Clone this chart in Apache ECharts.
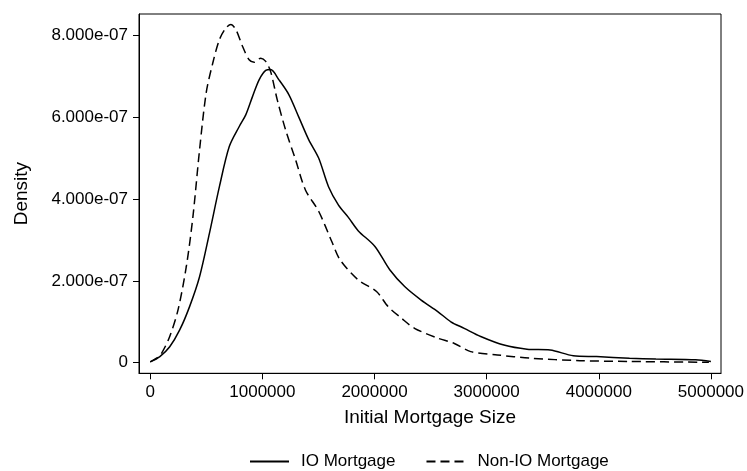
<!DOCTYPE html>
<html>
<head>
<meta charset="utf-8">
<script src="https://cdn.jsdelivr.net/npm/echarts@6/dist/echarts.min.js"></script>
<style>html,body{margin:0;padding:0;background:#fff}#c{width:747px;height:471px}</style>
</head>
<body>
<div id="c"></div>
<script>
// IO Mortgage kernel density
const ioX = [0, 86000, 174000, 263000, 351000, 440000, 528000, 617000, 705000, 794000, 853000, 912000, 971000, 1030000, 1074000, 1148000, 1236000, 1325000, 1413000, 1502000, 1590000, 1679000, 1767000, 1856000, 2004000, 2136000, 2269000, 2416000, 2564000, 2681000, 2800000, 2947000, 3154000, 3360000, 3566000, 3773000, 3980000, 4274000, 4510000, 4864000, 5000000];
const ioY = [0.02e-7, 0.15e-7, 0.39e-7, 0.80e-7, 1.37e-7, 2.10e-7, 3.16e-7, 4.30e-7, 5.28e-7, 5.77e-7, 6.06e-7, 6.50e-7, 6.91e-7, 7.14e-7, 7.16e-7, 6.91e-7, 6.55e-7, 6.00e-7, 5.45e-7, 5.00e-7, 4.30e-7, 3.85e-7, 3.55e-7, 3.22e-7, 2.84e-7, 2.27e-7, 1.86e-7, 1.53e-7, 1.25e-7, 1.00e-7, 0.84e-7, 0.64e-7, 0.43e-7, 0.33e-7, 0.31e-7, 0.17e-7, 0.15e-7, 0.11e-7, 0.09e-7, 0.07e-7, 0.03e-7];
// Non-IO Mortgage kernel density
const nonIoX = [0, 57000, 101000, 174000, 248000, 322000, 381000, 440000, 499000, 558000, 617000, 676000, 720000, 765000, 823000, 882000, 927000, 986000, 1030000, 1074000, 1133000, 1207000, 1296000, 1384000, 1502000, 1619000, 1694000, 1856000, 2018000, 2121000, 2239000, 2357000, 2564000, 2712000, 2858000, 3095000, 3389000, 3832000, 4274000, 4982000];
const nonIoY = [0.02e-7, 0.11e-7, 0.23e-7, 0.64e-7, 1.29e-7, 2.35e-7, 3.57e-7, 5.20e-7, 6.59e-7, 7.32e-7, 7.89e-7, 8.18e-7, 8.26e-7, 8.13e-7, 7.73e-7, 7.40e-7, 7.34e-7, 7.44e-7, 7.36e-7, 7.11e-7, 6.42e-7, 5.69e-7, 4.96e-7, 4.22e-7, 3.70e-7, 2.96e-7, 2.51e-7, 2.02e-7, 1.74e-7, 1.37e-7, 1.09e-7, 0.84e-7, 0.60e-7, 0.47e-7, 0.27e-7, 0.19e-7, 0.11e-7, 0.05e-7, 0.03e-7, 0.01e-7];
const xTicks = [0, 1000000, 2000000, 3000000, 4000000, 5000000];
const yTicks = [0, 2e-7, 4e-7, 6e-7, 8e-7];
const seriesNames = ['IO Mortgage', 'Non-IO Mortgage'];

const FONT = "'Liberation Sans', Arial, sans-serif";
function fmtY(v) {
  if (v === 0) return '0';
  return v.toExponential(3).replace(/e([+-])(\d)$/, 'e$10$2');
}
const zip = (xs, ys) => xs.map((x, i) => [x, ys[i]]);

const chart = echarts.init(document.getElementById('c'), null, {renderer: 'canvas'});
chart.setOption({
  animation: false,
  backgroundColor: '#fff',
  textStyle: {fontFamily: FONT, color: '#000'},
  grid: {left: 139, top: 14, width: 586.5, height: 359.3, show: true, borderColor: '#000', borderWidth: 1, containLabel: false},
  xAxis: {
    type: 'value', min: -100000, max: 5090000,
    name: 'Initial Mortgage Size', nameLocation: 'middle', nameGap: 35,
    nameTextStyle: {fontFamily: FONT, fontSize: 19, color: '#000'},
    axisLine: {show: true, onZero: false, lineStyle: {color: '#000', width: 1}},
    axisTick: {show: true, length: 6, customValues: xTicks, lineStyle: {color: '#000'}},
    axisLabel: {customValues: xTicks, fontFamily: FONT, fontSize: 17, color: '#000', margin: 11, formatter: v => String(v)},
    splitLine: {show: false}
  },
  yAxis: {
    type: 'value', min: -0.259e-7, max: 8.518e-7,
    name: 'Density', nameLocation: 'middle', nameGap: 108, nameRotate: 90,
    nameTextStyle: {fontFamily: FONT, fontSize: 19, color: '#000'},
    axisLine: {show: true, onZero: false, lineStyle: {color: '#000', width: 1}},
    axisTick: {show: true, length: 6, customValues: yTicks, lineStyle: {color: '#000'}},
    axisLabel: {customValues: yTicks, fontFamily: FONT, fontSize: 17, color: '#000', margin: 11, formatter: fmtY},
    splitLine: {show: false}
  },
  legend: {
    left: 249, top: 453, padding: 0, itemWidth: 39, itemHeight: 14, itemGap: 30,
    data: seriesNames,
    itemStyle: {opacity: 0},
    textStyle: {fontFamily: FONT, fontSize: 17, color: '#000', padding: [0, 0, 0, 7]}
  },
  series: [
    {name: seriesNames[0], type: 'line', data: zip(ioX, ioY), symbol: 'none', smooth: 0.3,
     lineStyle: {color: '#000', width: 1.5, type: 'solid'}, itemStyle: {color: '#000'}},
    {name: seriesNames[1], type: 'line', data: zip(nonIoX, nonIoY), symbol: 'none', smooth: 0.3,
     lineStyle: {color: '#000', width: 1.5, type: [9, 5]}, itemStyle: {color: '#000'}}
  ]
});
</script>
</body>
</html>
